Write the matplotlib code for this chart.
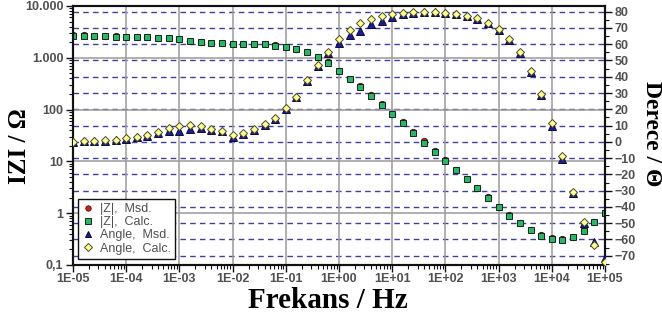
import numpy as np
import matplotlib
matplotlib.use('Agg')
import matplotlib.pyplot as plt
from matplotlib.ticker import LogLocator, NullFormatter, MultipleLocator
from matplotlib.transforms import blended_transform_factory

# frequencies, 5 per decade
freq = [1.0e-05, 1.585e-05, 2.512e-05, 3.981e-05, 6.310e-05,
        1.0e-04, 1.585e-04, 2.512e-04, 3.981e-04, 6.310e-04,
        1.0e-03, 1.585e-03, 2.512e-03, 3.981e-03, 6.310e-03,
        1.0e-02, 1.585e-02, 2.512e-02, 3.981e-02, 6.310e-02,
        1.0e-01, 1.585e-01, 2.512e-01, 3.981e-01, 6.310e-01,
        1.0e+00, 1.585e+00, 2.512e+00, 3.981e+00, 6.310e+00,
        1.0e+01, 1.585e+01, 2.512e+01, 3.981e+01, 6.310e+01,
        1.0e+02, 1.585e+02, 2.512e+02, 3.981e+02, 6.310e+02,
        1.0e+03, 1.585e+03, 2.512e+03, 3.981e+03, 6.310e+03,
        1.0e+04, 1.585e+04, 2.512e+04, 3.981e+04, 6.310e+04,
        1.0e+05]

z_msd = [2700, 2700, 2690, 2680, 2580, 2540, 2530, 2500, 2450, 2385,
         2280, 2115, 2020, 1960, 1910, 1875, 1830, 1830, 1830, 1735,
         1645, 1490, 1290, 1035, 815, 560, 395, 285, 195, 128,
         84.0, 57.5, 36.5, 24.5, 15.8, 10.5, 6.95, 4.6, 3.1, 2.02,
         1.34, 0.91, 0.655, 0.48, 0.375, 0.33, 0.318, 0.35, 0.46, 0.675,
         1.0]

z_calc = [2636, 2636, 2636, 2636, 2553, 2521, 2521, 2488, 2444, 2379,
          2273, 2110, 2017, 1958, 1906, 1872, 1823, 1823, 1823, 1726,
          1636, 1479, 1277, 1022, 804, 548, 386, 270, 183, 121,
          82.2, 54.4, 35.8, 23.0, 15.4, 10.2, 6.82, 4.51, 3.03, 1.99,
          1.32, 0.895, 0.647, 0.474, 0.368, 0.318, 0.304, 0.343, 0.453, 0.667,
          0.995]

ang_msd = [0.0, 0.3, 0.3, 0.8, 0.9, 1.8, 2.8, 3.6, 5.3, 6.9,
           6.9, 7.7, 8.3, 7.3, 6.5, 3.2, 5.0, 7.4, 10.5, 14.2,
           20.3, 27.5, 37.6, 46.8, 54.4, 61.0, 65.7, 68.3, 72.4, 74.5,
           76.9, 78.6, 79.3, 79.5, 79.5, 79.0, 78.3, 77.2, 75.5, 72.8,
           68.8, 62.6, 54.4, 43.0, 28.6, 9.8, -10.3, -31.2, -49.7, -61.8,
           -71.4]

ang_calc = [0.1, 0.5, 0.5, 1.1, 1.1, 2.2, 3.2, 4.2, 6.2, 8.3,
            9.7, 10.4, 9.7, 7.9, 6.9, 4.2, 5.3, 7.7, 11.0, 14.5,
            20.6, 27.8, 38.0, 47.2, 55.3, 63.1, 68.8, 73.0, 75.4, 77.4,
            78.6, 79.2, 79.6, 79.8, 79.8, 79.3, 78.6, 77.6, 75.9, 73.2,
            69.2, 63.2, 55.0, 43.7, 29.4, 11.4, -8.7, -30.6, -49.1, -63.4,
            -73.8]

xticks = [1e-5, 1e-4, 1e-3, 1e-2, 1e-1, 1e0, 1e1, 1e2, 1e3, 1e4, 1e5]
xlabels = ['1E-05', '1E-04', '1E-03', '1E-02', '1E-01', '1E+00',
           '1E+01', '1E+02', '1E+03', '1E+04', '1E+05']
zticks = [0.1, 1, 10, 100, 1000, 10000]
zlabels = ['0,1', '1', '10', '100', '1.000', '10.000']
angticks = [-70, -60, -50, -40, -30, -20, -10, 0, 10, 20, 30, 40, 50, 60, 70, 80]

plt.rcParams['font.family'] = 'Liberation Sans'

fig = plt.figure(figsize=(6.62, 3.2), dpi=100)
ax = fig.add_axes([0.1103, 0.1719, 0.8036, 0.8094])
ax2 = ax.twinx()

ax.set_xscale('log')
ax.set_yscale('log')
ax.set_xlim(1e-5, 1e5)
ax.set_ylim(0.1, 10000)
ax2.set_ylim(-75.7, 83.5)

# solid grey grid at decades
ax.grid(True, which='major', color='#9a9a9a', lw=1.1, zorder=0)
# dashed blue grid on the angle ticks, drawn in the lower axes
tr = blended_transform_factory(ax.transAxes, ax2.transData)
for a in angticks:
    ax.plot([0, 1], [a, a], transform=tr, color='#40409c', lw=1.0,
            dashes=(4, 3), zorder=0.5)

ms_kw = dict(ls='none', markeredgewidth=0.7)
h1, = ax.plot(freq, z_msd, marker='o', ms=4.5, mfc='#d02020', mec='#5a1010',
              label='|Z|,  Msd.', zorder=3, **ms_kw)
h2, = ax.plot(freq, z_calc, marker='s', ms=4.3, mfc='#2eb36a', mec='#0f2a15',
              label='|Z|,  Calc.', zorder=4, **ms_kw)
h3, = ax2.plot(freq, ang_msd, marker='^', ms=5.5, mfc='#1c1c8e', mec='#0a0a40',
               label='Angle,  Msd.', zorder=3, **ms_kw)
h4, = ax2.plot(freq, ang_calc, marker='D', ms=4.5, mfc='#ffff99', mec='#4a4a20',
               label='Angle,  Calc.', zorder=4, **ms_kw)

ax.set_xticks(xticks)
ax.set_xticklabels(xlabels)
ax.xaxis.set_minor_locator(LogLocator(base=10, subs=np.arange(2, 10), numticks=20))
ax.xaxis.set_minor_formatter(NullFormatter())
ax.set_yticks(zticks)
ax.set_yticklabels(zlabels)
ax.yaxis.set_minor_locator(LogLocator(base=10, subs=np.arange(2, 10), numticks=20))
ax.yaxis.set_minor_formatter(NullFormatter())
ax2.set_yticks(angticks)
ax2.yaxis.set_minor_locator(MultipleLocator(5))

for a in (ax, ax2):
    a.tick_params(which='major', length=5, width=1, labelsize=9, colors='#111',
                  labelcolor='#505050', pad=2)
    a.tick_params(which='minor', length=3, width=0.8, colors='#111')
    for lbl in a.get_xticklabels() + a.get_yticklabels():
        lbl.set_fontweight('bold')
ax.tick_params(axis='x', which='both', top=False)
ax.tick_params(axis='x', which='major', pad=1)
ax2.tick_params(axis='y', which='both', right=True)

for a in (ax, ax2):
    for s in a.spines.values():
        s.set_color('#111')
        s.set_linewidth(1.5)
ax.spines['top'].set_color('#555')

fig.text(328 / 662, 1 - 308 / 320, 'Frekans / Hz', ha='center', va='baseline',
         family='Liberation Serif', weight='bold', fontsize=21)
fig.text(19 / 662, 1 - 146 / 320, 'IZI / Ω', ha='center', va='center',
         rotation=90, family='Liberation Serif', weight='bold', fontsize=18)
fig.text(652 / 662, 1 - 134 / 320, 'Derece / Θ', ha='center', va='center',
         rotation=-90, family='Liberation Serif', weight='bold', fontsize=17)

leg = ax2.legend(handles=[h1, h2, h3, h4], loc='lower left',
                 bbox_to_anchor=(0.009, 0.023), borderaxespad=0,
                 fancybox=False, framealpha=1, edgecolor='#111',
                 fontsize=9, handlelength=1.0, handletextpad=0.4,
                 labelspacing=0.1, borderpad=0.35, markerscale=0.85)
leg.get_frame().set_linewidth(1.0)
for t in leg.get_texts():
    t.set_color('#505050')

plt.savefig('out.png', dpi=100)
